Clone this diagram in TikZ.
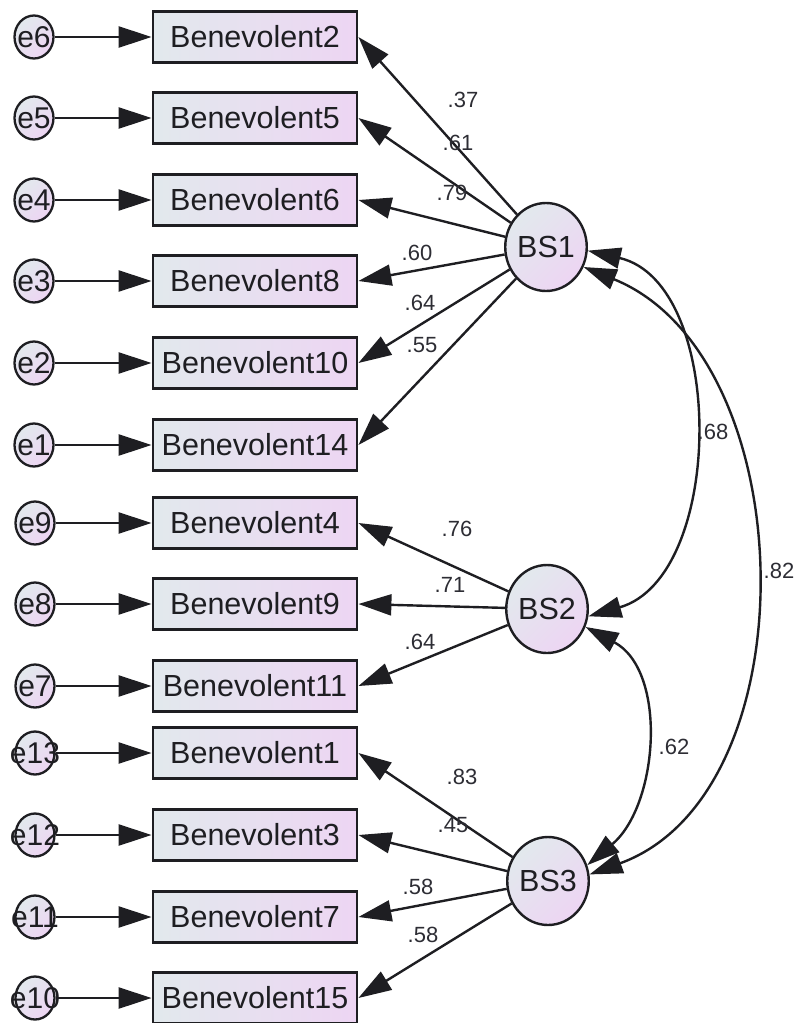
\documentclass[tikz,border=0pt]{standalone}
\usepackage{fontspec}
\setmainfont{Liberation Sans}
\usetikzlibrary{arrows.meta,shapes.geometric}

\definecolor{shadeA}{RGB}{226,233,237}
\definecolor{shadeB}{RGB}{237,213,243}
\definecolor{ink}{RGB}{30,30,34}
\definecolor{coef}{RGB}{45,45,52}

\tikzset{
  obsbox/.style={draw=ink, line width=2.8pt, minimum width=204pt, minimum height=51pt,
    inner sep=0pt, left color=shadeA, right color=shadeB, text=ink,
    font=\fontsize{30.5}{30.5}\selectfont},
  latent/.style={ellipse, draw=ink, line width=2.4pt, minimum width=80pt, minimum height=88pt,
    inner sep=0pt, top color=shadeA, bottom color=shadeB, shading angle=45, text=ink,
    font=\fontsize{30.5}{30.5}\selectfont},
  errc/.style={ellipse, draw=ink, line width=2.3pt, minimum width=39pt, minimum height=43pt,
    inner sep=0pt, top color=shadeA, bottom color=shadeB, shading angle=45, text=ink,
    font=\fontsize{30}{30}\selectfont},
  path/.style={draw=ink, line width=2.4pt, -{Triangle[length=33pt,width=21pt]}},
  covpath/.style={draw=ink, line width=2.4pt,
    {Triangle[length=33pt,width=21pt]}-{Triangle[length=33pt,width=21pt]}},
  coeflab/.style={text=coef, inner sep=0pt, font=\fontsize{22}{22}\selectfont}
}
% error label whose text may spill over the fixed-size circle
\newcommand{\errtext}[1]{\makebox[0pt]{#1}}

\begin{document}
\begin{tikzpicture}[x=1pt,y=-1pt]
\useasboundingbox (0,0) rectangle (798,1023);

% observed indicators
\node[obsbox] (b2)  at (255,37)  {Benevolent2};
\node[obsbox] (b5)  at (255,118) {Benevolent5};
\node[obsbox] (b6)  at (255,200) {Benevolent6};
\node[obsbox] (b8)  at (255,281) {Benevolent8};
\node[obsbox] (b10) at (255,363) {Benevolent10};
\node[obsbox] (b14) at (255,445) {Benevolent14};
\node[obsbox] (b4)  at (255,523) {Benevolent4};
\node[obsbox] (b9)  at (255,604) {Benevolent9};
\node[obsbox] (b11) at (255,686) {Benevolent11};
\node[obsbox] (b1)  at (255,753) {Benevolent1};
\node[obsbox] (b3)  at (255,835) {Benevolent3};
\node[obsbox] (b7)  at (255,917) {Benevolent7};
\node[obsbox] (b15) at (255,998) {Benevolent15};

% error terms
\node[errc] (e6)  at (34,37)  {\errtext{e6}};
\node[errc] (e5)  at (34,118) {\errtext{e5}};
\node[errc] (e4)  at (34,200) {\errtext{e4}};
\node[errc] (e3)  at (34,281) {\errtext{e3}};
\node[errc] (e2)  at (34,363) {\errtext{e2}};
\node[errc] (e1)  at (34,445) {\errtext{e1}};
\node[errc] (e9)  at (35,523) {\errtext{e9}};
\node[errc] (e8)  at (35,604) {\errtext{e8}};
\node[errc] (e7)  at (35,686) {\errtext{e7}};
\node[errc] (e13) at (35,753) {\errtext{e13}};
\node[errc] (e12) at (35,835) {\errtext{e12}};
\node[errc] (e11) at (35,917) {\errtext{e11}};
\node[errc] (e10) at (35,998) {\errtext{e10}};

% latent factors
\node[latent] (BS1) at (546,247) {BS1};
\node[latent] (BS2) at (547,609) {BS2};
\node[latent] (BS3) at (548,881) {BS3};

% error paths
\foreach \e/\b in {e6/b2,e5/b5,e4/b6,e3/b8,e2/b10,e1/b14,e9/b4,e8/b9,e7/b11,e13/b1,e12/b3,e11/b7,e10/b15}
  \draw[path] (\e) -- (\b.west);

% loadings
\foreach \b in {b2,b5,b6,b8,b10,b14}
  \draw[path] (BS1) -- (\b.east);
\foreach \b in {b4,b9,b11}
  \draw[path] (BS2) -- (\b.east);
\foreach \b in {b1,b3,b7,b15}
  \draw[path] (BS3) -- (\b.east);

% factor covariances
\draw[covpath] (BS1.-5) to[out=-13, in=16] (BS2.-10);
\draw[covpath] (BS1.-28) to[out=-22, in=20] (BS3.9);
\draw[covpath] (BS2.-25) to[out=-28, in=40] (BS3.22);

% coefficients
\node[coeflab] (c1)  at (463,100) {.37};
\node[coeflab] (c2)  at (458,143) {.61};
\node[coeflab] (c3)  at (452,193) {.79};
\node[coeflab] (c4)  at (417,253) {.60};
\node[coeflab] (c5)  at (420,303) {.64};
\node[coeflab] (c6)  at (422,345) {.55};
\node[coeflab] (c7)  at (713,432) {.68};
\node[coeflab] (c8)  at (457,529) {.76};
\node[coeflab] (c9)  at (450,585) {.71};
\node[coeflab] (c10) at (420,642) {.64};
\node[coeflab] (c11) at (779,571) {.82};
\node[coeflab] (c12) at (674,747) {.62};
\node[coeflab] (c13) at (462,777) {.83};
\node[coeflab] (c14) at (453,825) {.45};
\node[coeflab] (c15) at (418,887) {.58};
\node[coeflab] (c16) at (423,935) {.58};
\end{tikzpicture}
\end{document}
